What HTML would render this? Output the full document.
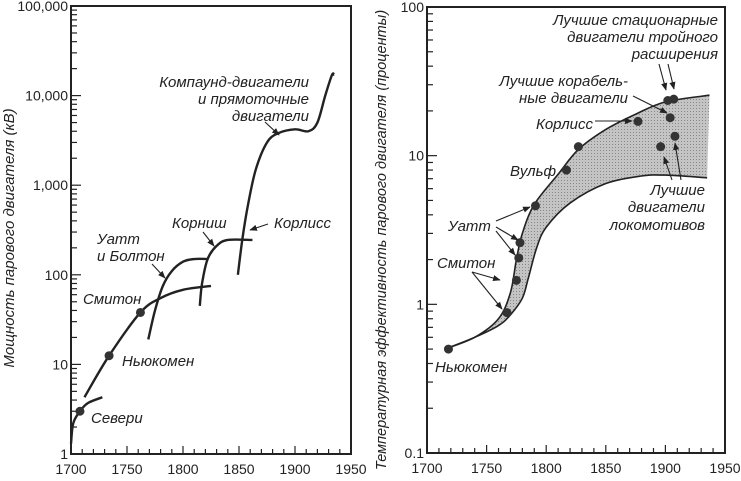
<!DOCTYPE html>
<html><head><meta charset="utf-8"><style>
body{margin:0;background:#fff;}
svg{display:block;font-family:"Liberation Sans","DejaVu Sans",sans-serif;}
.lab{font-style:italic;font-size:15px;fill:#222;}
.tk{font-size:14px;fill:#222;}
</style></head><body>
<svg id="c" width="741" height="481" viewBox="0 0 741 481">
<defs>
<marker id="ah" viewBox="0 0 10 10" refX="9" refY="5" markerWidth="7" markerHeight="7" orient="auto"><path d="M0,1 L10,5 L0,9 z" fill="#222"/></marker>
<pattern id="dots" width="3" height="3" patternUnits="userSpaceOnUse"><rect width="3" height="3" fill="#c4c4c4"/><rect width="1" height="1" fill="#888"/></pattern>
</defs>
</svg>
<script>
// ---- Left chart data: power (kW) ----
const leftYears = [1700,1750,1800,1850,1900,1950];
const leftTicks = ["1","10","100","1,000","10,000","100,000"];
const saveryYears = [1700,1702,1708,1715,1728];
const saveryKw = [1.3,2.2,3.0,3.7,4.3];
const newcomenYears = [1712,1734,1762,1780,1800,1825];
const newcomenKw = [4.3,12.5,38,55,68,75];
const wattYears = [1769,1775,1782,1790,1800,1810,1822];
const wattKw = [19,40,75,110,140,150,150];
const cornishYears = [1815,1817,1822,1830,1840,1862];
const cornishKw = [45,80,150,210,245,245];
const compoundYears = [1849,1853,1858,1865,1875,1885,1900,1912,1920,1927,1933,1935];
const compoundKw = [100,250,600,1500,3000,3800,4200,4000,5000,10000,17000,17000];
const leftDotYears = [1708,1734,1762];
const leftDotKw = [3.0,12.5,38];
// ---- Right chart data: efficiency (%) ----
const rightTicks = ["0.1","1","10","100"];
const upperYears = [1715,1740,1760,1770,1775,1780,1790,1810,1827,1850,1875,1900,1937];
const upperPct = [0.5,0.6,0.8,1.2,2,3,4.7,7.5,11,15,19,23,25.5];
const lowerYears = [1715,1740,1760,1770,1780,1785,1792,1800,1820,1850,1880,1900,1935];
const lowerPct = [0.5,0.6,0.72,0.85,1.1,1.5,2.4,3.3,4.8,6.5,7.3,7.4,7.1];
const ptYears = [1718,1767,1775,1777,1778,1791,1817,1827,1877,1902,1907,1904,1896,1908];
const ptPct = [0.5,0.88,1.45,2.05,2.6,4.6,8,11.5,17,23.5,24,18,11.5,13.5];

const NS="http://www.w3.org/2000/svg";
const svg=document.getElementById('c');
function mk(t,a,p){const e=document.createElementNS(NS,t);for(const k in a)e.setAttribute(k,a[k]);(p||svg).appendChild(e);return e;}
const L={x0:71,x1:351,y0:454,y1:6,lmin:0,lmax:5};
const R={x0:427,x1:725,y0:453,y1:7,lmin:-1,lmax:2};
function xs(c,yr){return c.x0+(yr-1700)/250*(c.x1-c.x0);}
function ys(c,v){return c.y0-(Math.log10(v)-c.lmin)/(c.lmax-c.lmin)*(c.y0-c.y1);}
function pathD(c,xa,ya){
  const p=xa.map((x,i)=>[xs(c,x),ys(c,ya[i])]);
  let d="M"+p[0][0]+","+p[0][1];
  for(let i=0;i<p.length-1;i++){
    const p0=p[i-1]||p[i],p1=p[i],p2=p[i+1],p3=p[i+2]||p2;
    d+=" C"+(p1[0]+(p2[0]-p0[0])/6)+","+(p1[1]+(p2[1]-p0[1])/6)+" "+(p2[0]-(p3[0]-p1[0])/6)+","+(p2[1]-(p3[1]-p1[1])/6)+" "+p2[0]+","+p2[1];
  }
  return d;
}
function frame(c,name,ticks){
  const g=mk('g',{});
  
  
  const r=mk('rect',{x:c.x0,y:c.y1,width:c.x1-c.x0,height:c.y0-c.y1,fill:'none',stroke:'#222','stroke-width':2},g);
  
  
  for(let yr=1700;yr<=1950;yr+=10){const x=xs(c,yr);const big=yr%50==0;mk('line',{x1:x,x2:x,y1:c.y0,y2:c.y0-(big?8:5),stroke:'#222','stroke-width':1.2},g);}
  for(let yr=1700;yr<=1950;yr+=50){const t=mk('text',{x:xs(c,yr),y:c.y0+20,'text-anchor':'middle',class:'tk'},g);t.textContent=yr;
    }
  for(let d=c.lmin;d<=c.lmax;d++){
    for(let m=1;m<=9;m++){if(d==c.lmax&&m>1)break;const y=ys(c,m*Math.pow(10,d));
      mk('line',{x1:c.x0,x2:c.x0+(m==1?10:6),y1:y,y2:y,stroke:'#222','stroke-width':1.2},g);}
    const t=mk('text',{x:c.x0-3,y:ys(c,Math.pow(10,d))+5,'text-anchor':'end',class:'tk'},g);t.textContent=ticks[d-c.lmin];
    
  }
}
frame(L,'left-chart',leftTicks);
frame(R,'right-chart',rightTicks);
function curve(c,xa,ya,name){const e=mk('path',{d:pathD(c,xa,ya),fill:'none',stroke:'#222','stroke-width':2.4});
  }
curve(L,saveryYears,saveryKw,'savery-curve');
curve(L,newcomenYears,newcomenKw,'newcomen-curve');
curve(L,wattYears,wattKw,'watt-curve');
curve(L,cornishYears,cornishKw,'cornish-curve');
curve(L,compoundYears,compoundKw,'compound-curve');
leftDotYears.forEach((y,i)=>{const e=mk('circle',{cx:xs(L,y),cy:ys(L,leftDotKw[i]),r:4.5,fill:'#333'});
  });
const up=pathD(R,upperYears,upperPct);
const lowRevY=lowerYears.slice().reverse(),lowRevP=lowerPct.slice().reverse();
const lo=pathD(R,lowRevY,lowRevP).replace(/^M/,' L');
const band=mk('path',{d:up+lo+' Z',fill:'url(#dots)',stroke:'none'});

const ub=mk('path',{d:up,fill:'none',stroke:'#222','stroke-width':1.6});

const lb=mk('path',{d:pathD(R,lowerYears,lowerPct),fill:'none',stroke:'#222','stroke-width':1.6});

ptYears.forEach((y,i)=>{const e=mk('circle',{cx:xs(R,y),cy:ys(R,ptPct[i]),r:4.5,fill:'#333'});
  });
function lab(x,y,txt,anchor,name){const t=mk('text',{x:x,y:y,class:'lab','text-anchor':anchor||'start'});t.textContent=txt;
  }
function arr(x1,y1,x2,y2){const e=mk('line',{x1,y1,x2,y2,stroke:'#222','stroke-width':1.1,'marker-end':'url(#ah)'});
  }
lab(309,87,'Компаунд-двигатели','end','compound-label');
lab(309,104,'и прямоточные','end','compound-label');
lab(309,121,'двигатели','end','compound-label');
arr(265,122,279,135);
lab(172,228,'Корниш','start','cornish-label');arr(203,232,214,246);
lab(274,228,'Корлисс','start','corliss-label');arr(268,224,250,230);
lab(97,244,'Уатт','start','watt-label');
lab(97,261,'и Болтон','start','watt-label');arr(152,264,165,278);
lab(83,304,'Смитон','start','smeaton-label');
lab(122,366,'Ньюкомен','start','newcomen-label');
lab(91,423,'Севери','start','savery-label');
lab(718,25,'Лучшие стационарные','end','stationary-label');
lab(718,42,'двигатели тройного','end','stationary-label');
lab(718,59,'расширения','end','stationary-label');
arr(659,64,666,90);arr(668,64,674,89);
lab(628,86,'Лучшие корабель-','end','ship-label');
lab(628,103,'ные двигатели','end','ship-label');arr(633,96,667,113);
lab(536,129,'Корлисс','start','corliss-label-r');arr(595,121,632,121);
lab(510,176,'Вульф','start','woolf-label');
lab(448,231,'Уатт','start','watt-label-r');arr(496,221,530,207);arr(496,227,518,240);arr(496,231,515,255);
lab(437,268,'Смитон','start','smeaton-label-r');arr(472,272,500,280);arr(472,272,502,309);
lab(435,372,'Ньюкомен','start','newcomen-label-r');
lab(705,195,'Лучшие','end','locomotive-label');
lab(705,212,'двигатели','end','locomotive-label');
lab(705,230,'локомотивов','end','locomotive-label');
arr(672,180,664,157);arr(681,180,675,143);
function ytitle(x,y,txt,name,fs){const t=mk('text',{x:0,y:0,class:'lab','text-anchor':'middle',transform:'translate('+x+','+y+') rotate(-90)'});
  t.textContent=txt;t.style.fontSize=fs;}
ytitle(14,238,'Мощность парового двигателя (кВ)','left-y-axis-title','15px');
ytitle(386,240,'Температурная эффективность парового двигателя (проценты)','right-y-axis-title','14.5px');
</script>
</body></html>
